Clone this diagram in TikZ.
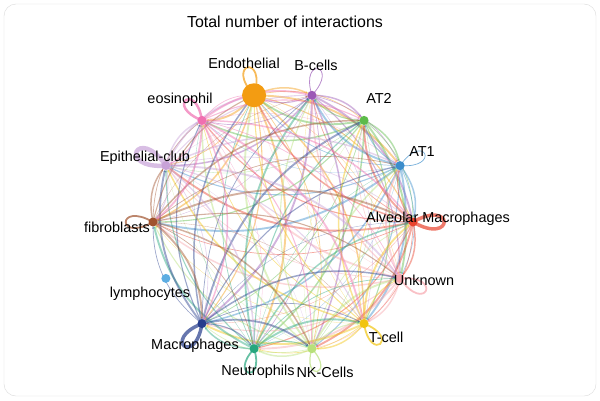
\documentclass[tikz,border=0pt]{standalone}
\usepackage{fontspec}
\setmainfont{Liberation Sans}
\usetikzlibrary{arrows.meta,calc}
\definecolor{col0}{HTML}{F39C12}
\definecolor{col1}{HTML}{9B59B6}
\definecolor{col2}{HTML}{5DBB4A}
\definecolor{col3}{HTML}{3C8DCB}
\definecolor{col4}{HTML}{E8432E}
\definecolor{col5}{HTML}{F7A6AE}
\definecolor{col6}{HTML}{F1C40F}
\definecolor{col7}{HTML}{B7E07A}
\definecolor{col8}{HTML}{26A67E}
\definecolor{col9}{HTML}{253C8C}
\definecolor{col10}{HTML}{5DADE2}
\definecolor{col11}{HTML}{A0522D}
\definecolor{col12}{HTML}{C8A2D8}
\definecolor{col13}{HTML}{F06FB0}
\tikzset{lab/.style={font=\fontsize{14.5}{16}\selectfont,inner sep=1pt},
 dot/.style={circle,inner sep=0pt,minimum size=9bp}}
\begin{document}
\begin{tikzpicture}[x=1bp,y=1bp]
\useasboundingbox (0,0) rectangle (600,400);
\draw[gray!30,rounded corners=12bp] (4,4) rectangle (596,396);
\node[font=\fontsize{16}{18}\selectfont] (title) at (285,378) {Total number of interactions};
\foreach \i in {0,...,13}{
  \pgfmathsetmacro\a{102.857-25.714*\i}
  \coordinate (n\i) at ($(283,178)+(\a:130)$);
}
% self loops
\foreach \i/\w/\s in {0/1.8/44,1/0.8/42,3/0.7/42,4/3.5/48,5/1.8/44,6/1.8/40,7/1.2/36,8/1.8/38,9/3.5/44,11/1.8/42,12/4.5/50,13/2.5/40}{
  \pgfmathsetmacro\a{102.857-25.714*\i}
  \draw[col\i,opacity=.7,line width=\w pt] (n\i) .. controls +(\a+30:\s) and +(\a-30:\s) .. (n\i);
}
\foreach \i in {0,1,2,3,4,5,6,7,8,9,11,12,13}{
 \foreach \j in {0,1,2,3,4,5,6,7,8,9,11,12,13}{
  \ifnum\i=\j\else
   \pgfmathsetmacro\w{0.3+mod(\i*7+\j*3,5)*0.4}
   \draw[col\i,opacity=.45,line width=\w pt,-{Stealth[length=3pt]},bend left=25,shorten >=4bp] (n\i) to (n\j);
  \fi
 }}
\foreach \i in {0,...,13}{
  \node[dot,fill=col\i] (d\i) at (n\i) {};
}
\node[circle,fill=col0,minimum size=24bp,inner sep=0pt] (big) at (n0) {};
\node[lab] (l0) at (244,337) {Endothelial};
\node[lab] (l1) at (316,335) {B-cells};
\node[lab] (l2) at (379,302) {AT2};
\node[lab] (l3) at (422,248) {AT1};
\node[lab] (l4) at (438,181) {Alveolar Macrophages};
\node[lab] (l5) at (424,120) {Unknown};
\node[lab] (l6) at (386,63) {T-cell};
\node[lab] (l7) at (325,28) {NK-Cells};
\node[lab] (l8) at (258,28) {Neutrophils};
\node[lab] (l9) at (195,54) {Macrophages};
\node[lab] (l10) at (150,106) {lymphocytes};
\node[lab] (l11) at (117,173) {fibroblasts};
\node[lab] (l12) at (145,242) {Epithelial-club};
\node[lab] (l13) at (180,300) {eosinophil};
\end{tikzpicture}
\end{document}
